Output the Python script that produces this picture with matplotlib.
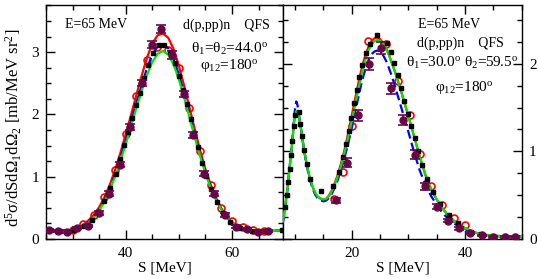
import matplotlib
matplotlib.use("Agg")
import matplotlib.pyplot as plt
from matplotlib.ticker import MultipleLocator

plt.rcParams['font.family'] = 'serif'
plt.rcParams['font.serif'] = ['Liberation Serif', 'DejaVu Serif']
plt.rcParams['mathtext.fontset'] = 'custom'
plt.rcParams['mathtext.rm'] = 'Liberation Serif'
plt.rcParams['mathtext.it'] = 'Liberation Serif:italic'
plt.rcParams['mathtext.bf'] = 'Liberation Serif:bold'

# ---------------- Left panel: theta1=theta2=44.0 ----------------
S_L = [25, 26, 27, 28, 29, 30, 31, 32, 33, 34, 35, 36, 37, 38, 39, 40, 41, 42, 43, 44, 45,
       46, 47, 48, 49, 50, 51, 52, 53, 54, 55, 56, 57, 58, 59, 60, 61, 62, 63, 64, 65, 66,
       67, 68, 69, 70]
blue_L = [0.14, 0.135, 0.13, 0.13, 0.13, 0.14, 0.16, 0.20, 0.27, 0.35, 0.47, 0.62, 0.81, 1.04,
          1.30, 1.58, 1.88, 2.18, 2.47, 2.74, 2.96, 3.09, 3.13, 3.06, 2.89, 2.64, 2.34, 2.01,
          1.68, 1.36, 1.08, 0.84, 0.64, 0.48, 0.35, 0.26, 0.20, 0.16, 0.14, 0.13, 0.125, 0.125,
          0.13, 0.13, 0.14, 0.15]
red_L = [0.14, 0.135, 0.13, 0.13, 0.135, 0.15, 0.18, 0.23, 0.30, 0.39, 0.51, 0.67, 0.87, 1.11,
         1.38, 1.68, 1.99, 2.31, 2.62, 2.91, 3.14, 3.27, 3.30, 3.23, 3.05, 2.78, 2.46, 2.11,
         1.76, 1.42, 1.12, 0.87, 0.66, 0.49, 0.36, 0.27, 0.21, 0.17, 0.15, 0.135, 0.13, 0.13,
         0.13, 0.135, 0.14, 0.15]
green_L = [0.14, 0.135, 0.13, 0.13, 0.13, 0.14, 0.16, 0.20, 0.26, 0.34, 0.45, 0.60, 0.78, 1.00,
           1.25, 1.52, 1.81, 2.10, 2.38, 2.63, 2.84, 2.97, 3.02, 2.96, 2.80, 2.56, 2.27, 1.95,
           1.63, 1.33, 1.05, 0.82, 0.63, 0.47, 0.35, 0.26, 0.20, 0.16, 0.14, 0.13, 0.125, 0.125,
           0.13, 0.13, 0.14, 0.15]
dots_S_L = [25.3, 27.7, 30.1, 32.2, 33.6, 34.8, 36.0, 37.1, 38.1, 38.9, 39.7, 40.5, 41.2, 41.9,
            42.6, 43.4, 44.2, 45.1, 46.2, 47.3, 48.4, 49.3, 50.1, 50.8, 51.5, 52.2, 52.9, 53.6,
            54.4, 55.2, 56.1, 57.1, 58.3, 59.7, 61.5, 63.8, 66.3, 69.4]
dots_v_L = [0.14, 0.13, 0.14, 0.21, 0.31, 0.44, 0.61, 0.82, 1.04, 1.28, 1.51, 1.72, 1.94, 2.15,
            2.35, 2.58, 2.79, 2.98, 3.11, 3.12, 3.00, 2.82, 2.61, 2.39, 2.17, 1.93, 1.70, 1.48,
            1.22, 1.01, 0.80, 0.60, 0.42, 0.28, 0.18, 0.13, 0.125, 0.15]
circ_S_L = [30, 32, 34, 36, 38, 40, 42, 44, 45.9, 48, 50, 52, 54, 56, 58, 60, 62, 64, 66]
circ_v_L = [0.15, 0.24, 0.39, 0.67, 1.11, 1.68, 2.30, 2.88, 3.08, 3.03, 2.75, 2.10, 1.42, 0.87,
            0.50, 0.29, 0.19, 0.15, 0.13]
exp_S_L = [25.5, 27.2, 28.9, 30.9, 32.9, 34.9, 36.9, 38.9, 40.9, 43.0, 44.9, 46.6, 48.8, 50.9,
           52.7, 54.7, 56.7, 58.7, 60.8, 62.8, 64.9, 66.7]
exp_v_L = [0.14, 0.13, 0.12, 0.18, 0.21, 0.42, 0.73, 1.19, 1.80, 2.50, 3.12, 3.37, 2.95, 2.33,
           1.67, 1.05, 0.73, 0.39, 0.20, 0.16, 0.12, 0.13]
exp_e_L = [0.02, 0.02, 0.02, 0.02, 0.02, 0.03, 0.04, 0.04, 0.05, 0.05, 0.06, 0.06, 0.06, 0.05,
           0.05, 0.04, 0.04, 0.03, 0.02, 0.02, 0.02, 0.02]

# ---------------- Right panel: theta1=30.0, theta2=59.5 ----------------
S_R = [7.8, 8.0, 8.5, 9.0, 9.5, 9.8, 10.0, 10.2, 10.4, 10.6, 11.0, 11.5, 12.0, 12.5, 13.0, 13.5,
       14.0, 14.5, 15.0, 15.5, 16.0, 16.5, 17.0, 17.5, 18.0, 18.5, 19.0, 19.5, 20.0, 20.5, 21.0,
       21.5, 22.0, 22.5, 23.0, 23.5, 24.0, 24.5, 25.0, 25.5, 26.0, 26.5, 27.0, 27.5, 28.0, 28.5,
       29.0, 29.5, 30.0, 31, 32, 33, 34, 35, 36, 37, 38, 39, 40, 41, 42, 43, 44, 45, 46, 47, 48,
       49, 50]
green_R = [0.20, 0.26, 0.50, 0.80, 1.12, 1.33, 1.42, 1.46, 1.46, 1.42, 1.27, 1.05, 0.86, 0.72,
           0.61, 0.53, 0.48, 0.46, 0.45, 0.46, 0.49, 0.55, 0.62, 0.71, 0.81, 0.93, 1.06, 1.20,
           1.35, 1.50, 1.66, 1.81, 1.95, 2.07, 2.16, 2.22, 2.26, 2.27, 2.26, 2.23, 2.18, 2.11,
           2.02, 1.93, 1.83, 1.73, 1.62, 1.51, 1.40, 1.17, 0.94, 0.73, 0.57, 0.45, 0.35, 0.27,
           0.21, 0.16, 0.125, 0.095, 0.07, 0.055, 0.045, 0.04, 0.035, 0.03, 0.03, 0.03, 0.03]
red_R = [0.20, 0.26, 0.50, 0.80, 1.12, 1.33, 1.42, 1.46, 1.46, 1.42, 1.27, 1.05, 0.86, 0.72,
         0.61, 0.53, 0.48, 0.46, 0.45, 0.46, 0.50, 0.56, 0.64, 0.73, 0.84, 0.96, 1.10, 1.25,
         1.41, 1.57, 1.73, 1.88, 2.01, 2.12, 2.20, 2.26, 2.29, 2.30, 2.28, 2.24, 2.18, 2.11,
         2.02, 1.93, 1.83, 1.73, 1.62, 1.51, 1.40, 1.17, 0.94, 0.73, 0.57, 0.45, 0.35, 0.27,
         0.21, 0.16, 0.125, 0.095, 0.07, 0.055, 0.045, 0.04, 0.035, 0.03, 0.03, 0.03, 0.03]
blue_R = [0.18, 0.24, 0.48, 0.80, 1.14, 1.38, 1.50, 1.57, 1.53, 1.45, 1.27, 1.04, 0.85, 0.70,
          0.59, 0.51, 0.46, 0.44, 0.43, 0.44, 0.47, 0.52, 0.59, 0.67, 0.77, 0.88, 1.00, 1.13,
          1.27, 1.42, 1.57, 1.72, 1.85, 1.96, 2.05, 2.11, 2.14, 2.15, 2.14, 2.10, 2.04, 1.96,
          1.87, 1.77, 1.66, 1.55, 1.44, 1.33, 1.22, 0.99, 0.78, 0.62, 0.49, 0.39, 0.30, 0.23,
          0.18, 0.14, 0.11, 0.085, 0.065, 0.05, 0.04, 0.035, 0.03, 0.03, 0.03, 0.03, 0.03]
dots_S_R = [8.25, 8.5, 8.75, 9.0, 9.25, 9.5, 9.75, 10.0, 10.6, 10.9, 11.2, 11.55, 12.0, 12.7,
            14.6, 16.7, 17.8, 18.5, 19.05, 19.5, 19.9, 20.4, 20.85, 21.35, 21.85, 22.45, 23.2,
            24.5, 26.2, 26.9, 27.5, 28.1, 28.7, 29.3, 29.9, 30.5, 31.1, 31.75, 32.4, 33.3, 34.3,
            35.6, 37.1, 38.7, 41.0, 42.8, 45.0, 47.0, 48.9]
dots_v_R = [0.37, 0.50, 0.65, 0.80, 0.96, 1.12, 1.29, 1.42, 1.45, 1.31, 1.17, 1.02, 0.86, 0.68,
            0.55, 0.61, 0.77, 0.93, 1.08, 1.23, 1.38, 1.55, 1.70, 1.85, 1.99, 2.12, 2.23,
            2.33, 2.24, 2.13, 2.01, 1.87, 1.72, 1.57, 1.43, 1.29, 1.15, 1.00, 0.84, 0.68, 0.54,
            0.40, 0.27, 0.18, 0.08, 0.055, 0.035, 0.03, 0.03]
circ_S_R = [16.8, 18.5, 20.0, 22.9, 26.1, 28.1, 30.2, 32.1, 34.0, 35.9, 38.0, 40.0]
circ_v_R = [0.46, 0.77, 1.29, 2.26, 2.22, 1.80, 1.41, 0.97, 0.61, 0.39, 0.245, 0.165]
exp_S_R = [17.2, 19.1, 21.1, 23.1, 25.1, 27.0, 29.0, 31.1, 33.0, 35.0, 36.9, 39.0, 40.8, 42.9,
           45.0, 47.0, 48.9]
exp_v_R = [0.44, 0.87, 1.41, 2.00, 2.18, 1.72, 1.36, 0.96, 0.60, 0.37, 0.21, 0.12, 0.07, 0.04,
           0.025, 0.02, 0.02]
exp_e_R = [0.03, 0.05, 0.06, 0.07, 0.07, 0.06, 0.06, 0.05, 0.04, 0.03, 0.02, 0.015, 0.01, 0.01,
           0.01, 0.01, 0.01]

RED = '#ff0000'
BLUE = '#0000ff'
GREEN = '#00e600'
PURPLE = '#670748'

W, H = 538, 279
fig = plt.figure(figsize=(W / 100, H / 100), dpi=100)
axL = fig.add_axes([46 / W, 1 - 239 / H, (283 - 46) / W, (239 - 5) / H])
axR = fig.add_axes([283 / W, 1 - 239 / H, (522 - 283) / W, (239 - 5) / H])


def draw(ax, S, red, blue, green, dS, dv, cS, cv, eS, ev, ee):
    ax.plot(cS, cv, 'o', mfc='none', mec=RED, ms=5, mew=1.2, zorder=2)
    ax.plot(S, red, '-', color=RED, lw=1.6, zorder=3)
    ax.plot(S, blue, '--', color=BLUE, lw=1.6, dashes=(4, 2), zorder=4)
    ax.plot(S, green, '-', color=GREEN, lw=1.6, zorder=5)
    ax.plot(dS, dv, 's', color='black', ms=2.7, zorder=6)
    ax.errorbar(eS, ev, yerr=ee, fmt='o', color=PURPLE, ms=5, ecolor=PURPLE,
                elinewidth=1.2, capsize=3.5, capthick=1.2, zorder=7)


draw(axL, S_L, red_L, blue_L, green_L, dots_S_L, dots_v_L, circ_S_L, circ_v_L,
     exp_S_L, exp_v_L, exp_e_L)
draw(axR, S_R, red_R, blue_R, green_R, dots_S_R, dots_v_R, circ_S_R, circ_v_R,
     exp_S_R, exp_v_R, exp_e_R)

axL.set_xlim(25, 69.6)
axL.set_ylim(0, 3.756)
axR.set_xlim(7.85, 50.05)
axR.set_ylim(0, 2.67)

for ax in (axL, axR):
    ax.xaxis.set_major_locator(MultipleLocator(20))
    ax.xaxis.set_minor_locator(MultipleLocator(5))
    ax.yaxis.set_major_locator(MultipleLocator(1))
    ax.yaxis.set_minor_locator(MultipleLocator(0.25))
    ax.tick_params(which='both', direction='in', top=True, right=True, width=1.0,
                   labelsize=11)
    ax.tick_params(which='major', length=6.5)
    ax.tick_params(which='minor', length=3.5)
    ax.tick_params(axis='x', pad=6)
    for sp in ax.spines.values():
        sp.set_linewidth(1.0)
    ax.set_xlabel('S [MeV]', fontsize=11, labelpad=1)

axL.tick_params(axis='y', pad=5)
axR.tick_params(axis='y', labelleft=False, labelright=True, pad=5)

fig.text(14 / W, 1 - 128 / H, 'd$^5$σ/dSdΩ$_1$dΩ$_2$ [mb/MeV sr$^2$]', rotation=90,
         ha='center', va='center', fontsize=12)

fs = 10
fs2 = 11
fig.text(65 / W, 1 - 28.5 / H, 'E=65 MeV', fontsize=fs, va='baseline')
fig.text(183 / W, 1 - 28.5 / H, 'd(p,pp)n    QFS', fontsize=fs, va='baseline')
fig.text(191 / W, 1 - 52.5 / H, r'θ$_1$=θ$_2$=44.0$^{\rm o}$', fontsize=fs2, va='baseline')
fig.text(200 / W, 1 - 69 / H, r'φ$_{12}$=180$^{\rm o}$', fontsize=fs2, va='baseline')

fig.text(418 / W, 1 - 28.5 / H, 'E=65 MeV', fontsize=fs, va='baseline')
fig.text(417 / W, 1 - 47 / H, 'd(p,pp)n    QFS', fontsize=fs, va='baseline')
fig.text(406 / W, 1 - 67 / H, r'θ$_1$=30.0$^{\rm o}$ θ$_2$=59.5$^{\rm o}$', fontsize=fs2,
         va='baseline')
fig.text(435 / W, 1 - 91 / H, r'φ$_{12}$=180$^{\rm o}$', fontsize=fs2, va='baseline')

fig.savefig('out.png', dpi=100)
